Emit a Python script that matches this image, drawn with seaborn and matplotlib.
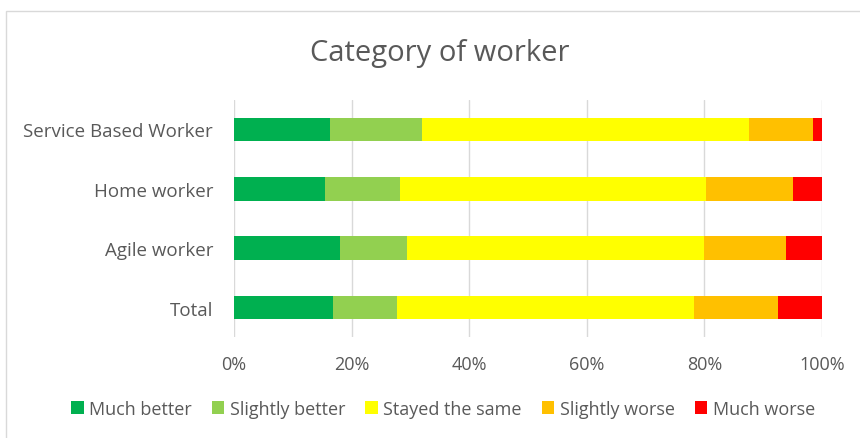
import matplotlib
matplotlib.use("Agg")
import matplotlib.pyplot as plt
import pandas as pd
import seaborn as sns
from matplotlib.patches import Rectangle, Patch
from matplotlib.ticker import PercentFormatter


# --------------------------------------------------
# Data (percent of each category of worker)
# --------------------------------------------------

categories = ["Service Based Worker", "Home worker", "Agile worker", "Total"]

responses = ["Much better", "Slightly better", "Stayed the same",
             "Slightly worse", "Much worse"]

much_better = [16.4, 15.5, 18.0, 16.8]
slightly_better = [15.5, 12.7, 11.4, 11.0]
stayed_same = [55.7, 52.0, 50.5, 50.5]
slightly_worse = [10.8, 14.8, 13.9, 14.2]
much_worse = [1.6, 5.0, 6.2, 7.5]

colors = ["#00B050", "#92D050", "#FFFF00", "#FFC000", "#FF0000"]

df = pd.DataFrame({
    "category": categories,
    "Much better": much_better,
    "Slightly better": slightly_better,
    "Stayed the same": stayed_same,
    "Slightly worse": slightly_worse,
    "Much worse": much_worse,
})

# cumulative ends so the bars can be layered (widest first)
cum = df[responses].cumsum(axis=1)
cum["category"] = df["category"]


# --------------------------------------------------
# Plot
# --------------------------------------------------

sns.set_style("white")
plt.rcParams["font.family"] = ["Open Sans", "DejaVu Sans"]
text_color = "#595959"

fig = plt.figure(figsize=(8.6, 4.39), dpi=100)
ax = fig.add_axes([234 / 860, 1 - 338.3 / 439, 588 / 860, 237.6 / 439])

for resp, col in reversed(list(zip(responses, colors))):
    sns.barplot(
        data=cum, x=resp, y="category", order=categories,
        color=col, width=0.395, saturation=1, ax=ax,
        edgecolor="none", linewidth=0, zorder=3,
    )

ax.set_xlim(0, 100)
ax.set_ylim(3.5, -0.5)
ax.set_xticks([0, 20, 40, 60, 80, 100])
ax.xaxis.set_major_formatter(PercentFormatter(decimals=0))
ax.grid(axis="x", color="#D9D9D9", linewidth=1, zorder=0)
ax.grid(axis="y", visible=False)
ax.set_xlabel("")
ax.set_ylabel("")
sns.despine(ax=ax, left=True, bottom=True)
ax.tick_params(axis="y", length=0, pad=15, labelsize=13.5, labelcolor=text_color)
ax.tick_params(axis="x", length=0, pad=13, labelsize=13, labelcolor=text_color)

fig.text(440 / 860, 1 - 53 / 439, "Category of worker", ha="center", va="center",
         fontsize=21, color=text_color)

handles = [Patch(facecolor=c, edgecolor="none", label=r) for r, c in zip(responses, colors)]
fig.legend(handles=handles, loc="center", bbox_to_anchor=(443 / 860, 1 - 410 / 439),
           ncol=5, frameon=False, fontsize=13, labelcolor=text_color,
           handlelength=0.7, handleheight=0.7, handletextpad=0.3, columnspacing=1.1)

# chart-area border (only top and left edges are visible)
fig.patches.append(Rectangle((6 / 860, -0.1), 1.0, 1.1 - 12 / 439, transform=fig.transFigure,
                             fill=False, edgecolor="#D9D9D9", linewidth=1))

fig.savefig("out.png", dpi=100)
